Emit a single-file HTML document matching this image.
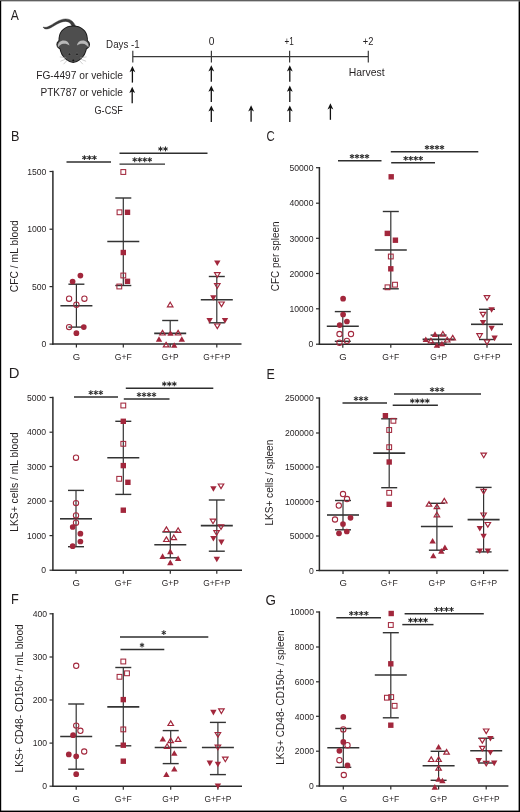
<!DOCTYPE html>
<html><head><meta charset="utf-8"><title>Figure</title>
<style>
html,body{margin:0;padding:0;background:#fff;}
body{width:520px;height:812px;position:relative;overflow:hidden;font-family:"Liberation Sans", sans-serif;}
</style></head><body>
<svg width="520" height="812" viewBox="0 0 520 812" style="position:absolute;left:0;top:0;will-change:transform">
<g font-family='"Liberation Sans", sans-serif'>
<text x="10.8" y="19.8" font-size="14.2" text-anchor="start" fill="#231f20" textLength="8.09" lengthAdjust="spacingAndGlyphs">A</text>
<g id="mouse">
<path d="M76.2 27.2 C73.8 21.8 70.8 18.9 65.6 18.9 C59.2 18.9 53.4 24.4 47.8 26.8 C46.2 27.5 44.4 27.5 43.1 27.0 C43.6 28.6 45.6 29.6 48.4 28.7 C54 26.6 59.4 21.4 65.6 21.4 C69.4 21.4 71.4 24.2 72.8 27.8 Z" fill="#3c3c3c" stroke="#262626" stroke-width="0.4"/>
<g stroke="#1a1a1a" stroke-width="1.9">
<ellipse cx="63.3" cy="44.4" rx="6.0" ry="4.6"/>
<ellipse cx="83.1" cy="44.4" rx="6.0" ry="4.6"/>
<path d="M73.2 26.5 C80.8 26.5 86.4 31 86.9 38.2 C87.2 42 86.8 45.5 86 48 C85.6 52.5 82.5 57 79.6 59.3 C77.6 60.9 75.3 62 73.2 62.1 C71.1 62 68.8 60.9 66.8 59.3 C63.9 57 60.8 52.5 60.4 48 C59.6 45.5 59.2 42 59.5 38.2 C60 31 65.6 26.5 73.2 26.5 Z"/>
</g>
<g fill="#4e4e4e">
<ellipse cx="63.3" cy="44.4" rx="6.0" ry="4.6"/>
<ellipse cx="83.1" cy="44.4" rx="6.0" ry="4.6"/>
<path d="M73.2 26.5 C80.8 26.5 86.4 31 86.9 38.2 C87.2 42 86.8 45.5 86 48 C85.6 52.5 82.5 57 79.6 59.3 C77.6 60.9 75.3 62 73.2 62.1 C71.1 62 68.8 60.9 66.8 59.3 C63.9 57 60.8 52.5 60.4 48 C59.6 45.5 59.2 42 59.5 38.2 C60 31 65.6 26.5 73.2 26.5 Z"/>
</g>
<path d="M57.9 47.4 C57.2 42.8 60.6 40.4 63.6 40.4 C66.7 40.4 69.1 42.3 69.5 45.6 C67.6 44.1 65.7 43.6 63.6 43.8 C61.2 44 59.4 45.4 57.9 47.4 Z" fill="#b9b9b9"/>
<path d="M88.5 47.4 C89.2 42.8 85.8 40.4 82.8 40.4 C79.7 40.4 77.3 42.3 76.9 45.6 C78.8 44.1 80.7 43.6 82.8 43.8 C85.2 44 87 45.4 88.5 47.4 Z" fill="#b9b9b9"/>
<circle cx="69.5" cy="54.3" r="1.3" fill="#1c1c1c" stroke="#707070" stroke-width="0.55"/>
<circle cx="77.0" cy="54.3" r="1.3" fill="#1c1c1c" stroke="#707070" stroke-width="0.55"/>
<circle cx="73.3" cy="60.4" r="0.95" fill="#111"/>
<g stroke="#a0a0a0" stroke-width="0.5" fill="none">
<path d="M66.2 57.7 L59.8 56.9"/><path d="M66.4 58.8 L60.3 61.3"/><path d="M67.4 59.9 L63.6 64.2"/>
<path d="M80.2 57.7 L86.6 56.9"/><path d="M80.0 58.8 L86.1 61.3"/><path d="M79.0 59.9 L82.8 64.2"/>
</g>
</g>
<text x="106.12" y="48" font-size="11.6" text-anchor="start" fill="#231f20" textLength="33.52" lengthAdjust="spacingAndGlyphs">Days -1</text>
<text x="208.69" y="44.8" font-size="10" text-anchor="start" fill="#231f20" textLength="5.68" lengthAdjust="spacingAndGlyphs">0</text>
<text x="284.39" y="44.8" font-size="10" text-anchor="start" fill="#231f20" textLength="9.32" lengthAdjust="spacingAndGlyphs">+1</text>
<text x="362.83" y="44.8" font-size="10" text-anchor="start" fill="#231f20" textLength="10.63" lengthAdjust="spacingAndGlyphs">+2</text>
<line x1="132.8" y1="56.6" x2="368.3" y2="56.6" stroke="#3a3a3a" stroke-width="1.3"/>
<line x1="132.8" y1="50.8" x2="132.8" y2="62.6" stroke="#3a3a3a" stroke-width="1.2"/>
<line x1="211.4" y1="50.8" x2="211.4" y2="62.6" stroke="#3a3a3a" stroke-width="1.2"/>
<line x1="289.6" y1="50.8" x2="289.6" y2="62.6" stroke="#3a3a3a" stroke-width="1.2"/>
<line x1="368.3" y1="50.8" x2="368.3" y2="62.6" stroke="#3a3a3a" stroke-width="1.2"/>
<text x="348.67" y="75.8" font-size="10.9" text-anchor="start" fill="#231f20" textLength="35.89" lengthAdjust="spacingAndGlyphs">Harvest</text>
<text x="36.18" y="78.8" font-size="11.6" text-anchor="start" fill="#231f20" textLength="86.76" lengthAdjust="spacingAndGlyphs">FG-4497 or vehicle</text>
<text x="40.49" y="96.3" font-size="11.6" text-anchor="start" fill="#231f20" textLength="82.42" lengthAdjust="spacingAndGlyphs">PTK787 or vehicle</text>
<text x="94.54" y="114.3" font-size="11.6" text-anchor="start" fill="#231f20" textLength="28.33" lengthAdjust="spacingAndGlyphs">G-CSF</text>
<line x1="132.4" y1="69" x2="132.4" y2="82.6" stroke="#111" stroke-width="1.3"/>
<path d="M132.4 66 L135.3 72.2 L132.4 70.6 L129.5 72.2 Z" fill="#111"/>
<line x1="132.2" y1="89.8" x2="132.2" y2="103.2" stroke="#111" stroke-width="1.3"/>
<path d="M132.2 86.8 L135.1 93 L132.2 91.4 L129.3 93 Z" fill="#111"/>
<line x1="211.3" y1="68.2" x2="211.3" y2="81.7" stroke="#111" stroke-width="1.3"/>
<path d="M211.3 65.2 L214.2 71.4 L211.3 69.8 L208.4 71.4 Z" fill="#111"/>
<line x1="211.3" y1="88.6" x2="211.3" y2="102.1" stroke="#111" stroke-width="1.3"/>
<path d="M211.3 85.6 L214.2 91.8 L211.3 90.2 L208.4 91.8 Z" fill="#111"/>
<line x1="211.3" y1="108.4" x2="211.3" y2="121.9" stroke="#111" stroke-width="1.3"/>
<path d="M211.3 105.4 L214.2 111.6 L211.3 110 L208.4 111.6 Z" fill="#111"/>
<line x1="289.8" y1="68.2" x2="289.8" y2="81.7" stroke="#111" stroke-width="1.3"/>
<path d="M289.8 65.2 L292.7 71.4 L289.8 69.8 L286.9 71.4 Z" fill="#111"/>
<line x1="289.8" y1="88.6" x2="289.8" y2="102.1" stroke="#111" stroke-width="1.3"/>
<path d="M289.8 85.6 L292.7 91.8 L289.8 90.2 L286.9 91.8 Z" fill="#111"/>
<line x1="289.8" y1="108.4" x2="289.8" y2="121.9" stroke="#111" stroke-width="1.3"/>
<path d="M289.8 105.4 L292.7 111.6 L289.8 110 L286.9 111.6 Z" fill="#111"/>
<line x1="251.1" y1="108.2" x2="251.1" y2="121.8" stroke="#111" stroke-width="1.3"/>
<path d="M251.1 105.2 L254 111.4 L251.1 109.8 L248.2 111.4 Z" fill="#111"/>
<line x1="330.4" y1="106.2" x2="330.4" y2="119.8" stroke="#111" stroke-width="1.3"/>
<path d="M330.4 103.2 L333.3 109.4 L330.4 107.8 L327.5 109.4 Z" fill="#111"/>
<text x="10.99" y="140.8" font-size="14.2" text-anchor="start" fill="#231f20" textLength="8.43" lengthAdjust="spacingAndGlyphs">B</text>
<line x1="52.9" y1="344.7" x2="52.9" y2="170.8" stroke="#2b2b2b" stroke-width="1.5"/>
<line x1="52.2" y1="344.1" x2="241.5" y2="344.1" stroke="#2b2b2b" stroke-width="1.5"/>
<line x1="49.5" y1="344.1" x2="52.9" y2="344.1" stroke="#2b2b2b" stroke-width="1.2"/>
<text x="41.52" y="347.35" font-size="9.3" text-anchor="start" fill="#231f20" textLength="4.79" lengthAdjust="spacingAndGlyphs">0</text>
<line x1="49.5" y1="286.6" x2="52.9" y2="286.6" stroke="#2b2b2b" stroke-width="1.2"/>
<text x="31.95" y="289.85" font-size="9.3" text-anchor="start" fill="#231f20" textLength="14.38" lengthAdjust="spacingAndGlyphs">500</text>
<line x1="49.5" y1="229.2" x2="52.9" y2="229.2" stroke="#2b2b2b" stroke-width="1.2"/>
<text x="27.21" y="232.45" font-size="9.3" text-anchor="start" fill="#231f20" textLength="19.17" lengthAdjust="spacingAndGlyphs">1000</text>
<line x1="49.5" y1="171.5" x2="52.9" y2="171.5" stroke="#2b2b2b" stroke-width="1.2"/>
<text x="27.21" y="174.75" font-size="9.3" text-anchor="start" fill="#231f20" textLength="19.17" lengthAdjust="spacingAndGlyphs">1500</text>
<line x1="76.4" y1="344.1" x2="76.4" y2="347.6" stroke="#2b2b2b" stroke-width="1.2"/>
<line x1="123.3" y1="344.1" x2="123.3" y2="347.6" stroke="#2b2b2b" stroke-width="1.2"/>
<line x1="170.2" y1="344.1" x2="170.2" y2="347.6" stroke="#2b2b2b" stroke-width="1.2"/>
<line x1="216.8" y1="344.1" x2="216.8" y2="347.6" stroke="#2b2b2b" stroke-width="1.2"/>
<text x="72.82" y="359.7" font-size="9.5" text-anchor="start" fill="#231f20" textLength="7.42" lengthAdjust="spacingAndGlyphs">G</text>
<text x="114.77" y="359.7" font-size="9.5" text-anchor="start" fill="#231f20" textLength="17" lengthAdjust="spacingAndGlyphs">G+F</text>
<text x="161.68" y="359.7" font-size="9.5" text-anchor="start" fill="#231f20" textLength="17.03" lengthAdjust="spacingAndGlyphs">G+P</text>
<text x="203.33" y="359.7" font-size="9.5" text-anchor="start" fill="#231f20" textLength="26.97" lengthAdjust="spacingAndGlyphs">G+F+P</text>
<text x="17.8" y="292.22" font-size="11" text-anchor="start" fill="#231f20" textLength="71.89" lengthAdjust="spacingAndGlyphs" transform="rotate(-90 17.8 292.22)">CFC / mL blood</text>
<line x1="66.5" y1="162" x2="111" y2="162" stroke="#2e2e2e" stroke-width="1.45"/>
<line x1="84.4" y1="155.15" x2="84.4" y2="160.05" stroke="#2a2a2a" stroke-width="1.05"/>
<line x1="82.28" y1="156.38" x2="86.52" y2="158.82" stroke="#2a2a2a" stroke-width="1.05"/>
<line x1="82.28" y1="158.82" x2="86.52" y2="156.38" stroke="#2a2a2a" stroke-width="1.05"/>
<line x1="89.4" y1="155.15" x2="89.4" y2="160.05" stroke="#2a2a2a" stroke-width="1.05"/>
<line x1="87.28" y1="156.38" x2="91.52" y2="158.82" stroke="#2a2a2a" stroke-width="1.05"/>
<line x1="87.28" y1="158.82" x2="91.52" y2="156.38" stroke="#2a2a2a" stroke-width="1.05"/>
<line x1="94.4" y1="155.15" x2="94.4" y2="160.05" stroke="#2a2a2a" stroke-width="1.05"/>
<line x1="92.28" y1="156.38" x2="96.52" y2="158.82" stroke="#2a2a2a" stroke-width="1.05"/>
<line x1="92.28" y1="158.82" x2="96.52" y2="156.38" stroke="#2a2a2a" stroke-width="1.05"/>
<line x1="119.5" y1="164.1" x2="165" y2="164.1" stroke="#2e2e2e" stroke-width="1.45"/>
<line x1="134.7" y1="157.25" x2="134.7" y2="162.15" stroke="#2a2a2a" stroke-width="1.05"/>
<line x1="132.58" y1="158.47" x2="136.82" y2="160.92" stroke="#2a2a2a" stroke-width="1.05"/>
<line x1="132.58" y1="160.92" x2="136.82" y2="158.47" stroke="#2a2a2a" stroke-width="1.05"/>
<line x1="139.7" y1="157.25" x2="139.7" y2="162.15" stroke="#2a2a2a" stroke-width="1.05"/>
<line x1="137.58" y1="158.47" x2="141.82" y2="160.92" stroke="#2a2a2a" stroke-width="1.05"/>
<line x1="137.58" y1="160.92" x2="141.82" y2="158.47" stroke="#2a2a2a" stroke-width="1.05"/>
<line x1="144.7" y1="157.25" x2="144.7" y2="162.15" stroke="#2a2a2a" stroke-width="1.05"/>
<line x1="142.58" y1="158.47" x2="146.82" y2="160.92" stroke="#2a2a2a" stroke-width="1.05"/>
<line x1="142.58" y1="160.92" x2="146.82" y2="158.47" stroke="#2a2a2a" stroke-width="1.05"/>
<line x1="149.7" y1="157.25" x2="149.7" y2="162.15" stroke="#2a2a2a" stroke-width="1.05"/>
<line x1="147.58" y1="158.47" x2="151.82" y2="160.92" stroke="#2a2a2a" stroke-width="1.05"/>
<line x1="147.58" y1="160.92" x2="151.82" y2="158.47" stroke="#2a2a2a" stroke-width="1.05"/>
<line x1="119.5" y1="153.3" x2="207.5" y2="153.3" stroke="#2e2e2e" stroke-width="1.45"/>
<line x1="160.5" y1="146.45" x2="160.5" y2="151.35" stroke="#2a2a2a" stroke-width="1.05"/>
<line x1="158.38" y1="147.68" x2="162.62" y2="150.12" stroke="#2a2a2a" stroke-width="1.05"/>
<line x1="158.38" y1="150.12" x2="162.62" y2="147.68" stroke="#2a2a2a" stroke-width="1.05"/>
<line x1="165.5" y1="146.45" x2="165.5" y2="151.35" stroke="#2a2a2a" stroke-width="1.05"/>
<line x1="163.38" y1="147.68" x2="167.62" y2="150.12" stroke="#2a2a2a" stroke-width="1.05"/>
<line x1="163.38" y1="150.12" x2="167.62" y2="147.68" stroke="#2a2a2a" stroke-width="1.05"/>
<line x1="76.4" y1="284.2" x2="76.4" y2="327.1" stroke="#333333" stroke-width="1.2"/>
<line x1="68.4" y1="284.2" x2="84.4" y2="284.2" stroke="#333333" stroke-width="1.4"/>
<line x1="68.4" y1="327.1" x2="84.4" y2="327.1" stroke="#333333" stroke-width="1.4"/>
<line x1="60.4" y1="305.7" x2="92.4" y2="305.7" stroke="#333333" stroke-width="1.6"/>
<line x1="123.3" y1="198" x2="123.3" y2="285.5" stroke="#333333" stroke-width="1.2"/>
<line x1="115.3" y1="198" x2="131.3" y2="198" stroke="#333333" stroke-width="1.4"/>
<line x1="115.3" y1="285.5" x2="131.3" y2="285.5" stroke="#333333" stroke-width="1.4"/>
<line x1="107.3" y1="241.5" x2="139.3" y2="241.5" stroke="#333333" stroke-width="1.6"/>
<line x1="170.2" y1="320.5" x2="170.2" y2="333.4" stroke="#333333" stroke-width="1.2"/>
<line x1="162.2" y1="320.5" x2="178.2" y2="320.5" stroke="#333333" stroke-width="1.4"/>
<line x1="154.2" y1="333.4" x2="186.2" y2="333.4" stroke="#333333" stroke-width="1.6"/>
<line x1="216.8" y1="276.5" x2="216.8" y2="322.8" stroke="#333333" stroke-width="1.2"/>
<line x1="208.8" y1="276.5" x2="224.8" y2="276.5" stroke="#333333" stroke-width="1.4"/>
<line x1="208.8" y1="322.8" x2="224.8" y2="322.8" stroke="#333333" stroke-width="1.4"/>
<line x1="200.8" y1="299.7" x2="232.8" y2="299.7" stroke="#333333" stroke-width="1.6"/>
<circle cx="80.4" cy="275.6" r="2.85" fill="#a2273c"/>
<circle cx="72.6" cy="281.5" r="2.85" fill="#a2273c"/>
<circle cx="76.4" cy="333.2" r="2.85" fill="#a2273c"/>
<circle cx="83.8" cy="327.1" r="2.85" fill="#a2273c"/>
<circle cx="69.1" cy="298.7" r="2.65" fill="none" stroke="#a2273c" stroke-width="1.05"/>
<circle cx="84.4" cy="298.7" r="2.65" fill="none" stroke="#a2273c" stroke-width="1.05"/>
<circle cx="76.4" cy="304.7" r="2.65" fill="none" stroke="#a2273c" stroke-width="1.05"/>
<circle cx="69.1" cy="327.1" r="2.65" fill="none" stroke="#a2273c" stroke-width="1.05"/>
<rect x="120.9" y="169.6" width="4.8" height="4.8" fill="none" stroke="#a2273c" stroke-width="1.05"/>
<rect x="117.1" y="209.9" width="4.8" height="4.8" fill="none" stroke="#a2273c" stroke-width="1.05"/>
<rect x="120.9" y="273.1" width="4.8" height="4.8" fill="none" stroke="#a2273c" stroke-width="1.05"/>
<rect x="116.9" y="284.1" width="4.8" height="4.8" fill="none" stroke="#a2273c" stroke-width="1.05"/>
<rect x="124.8" y="209.6" width="5.4" height="5.4" fill="#a2273c"/>
<rect x="120.6" y="249.8" width="5.4" height="5.4" fill="#a2273c"/>
<rect x="124.8" y="278.6" width="5.4" height="5.4" fill="#a2273c"/>
<polygon points="170.2,302.2 172.95,306.8 167.45,306.8" fill="none" stroke="#a2273c" stroke-width="1.2" stroke-linejoin="miter"/>
<polygon points="162.5,330.4 165.25,335 159.75,335" fill="none" stroke="#a2273c" stroke-width="1.2" stroke-linejoin="miter"/>
<polygon points="178.1,330.4 180.85,335 175.35,335" fill="none" stroke="#a2273c" stroke-width="1.2" stroke-linejoin="miter"/>
<polygon points="166.1,342.3 168.85,346.9 163.35,346.9" fill="none" stroke="#a2273c" stroke-width="1.2" stroke-linejoin="miter"/>
<polygon points="170.5,330.2 173.7,335.8 167.3,335.8" fill="#a2273c"/>
<polygon points="159,336.2 162.2,341.8 155.8,341.8" fill="#a2273c"/>
<polygon points="181.8,336.2 185,341.8 178.6,341.8" fill="#a2273c"/>
<polygon points="174.2,342.2 177.4,347.8 171,347.8" fill="#a2273c"/>
<polygon points="217.3,277.3 220.05,272.7 214.55,272.7" fill="none" stroke="#a2273c" stroke-width="1.2" stroke-linejoin="miter"/>
<polygon points="217.3,288.3 220.05,283.7 214.55,283.7" fill="none" stroke="#a2273c" stroke-width="1.2" stroke-linejoin="miter"/>
<polygon points="221.5,306.6 224.25,302 218.75,302" fill="none" stroke="#a2273c" stroke-width="1.2" stroke-linejoin="miter"/>
<polygon points="217.3,328.6 220.05,324 214.55,324" fill="none" stroke="#a2273c" stroke-width="1.2" stroke-linejoin="miter"/>
<polygon points="217.3,266.1 220.5,260.5 214.1,260.5" fill="#a2273c"/>
<polygon points="213.3,300.8 216.5,295.2 210.1,295.2" fill="#a2273c"/>
<polygon points="209.6,323.6 212.8,318 206.4,318" fill="#a2273c"/>
<polygon points="225,323.6 228.2,318 221.8,318" fill="#a2273c"/>
<text x="266.43" y="140.8" font-size="14.2" text-anchor="start" fill="#231f20" textLength="8.25" lengthAdjust="spacingAndGlyphs">C</text>
<line x1="319.4" y1="344.8" x2="319.4" y2="167" stroke="#2b2b2b" stroke-width="1.5"/>
<line x1="318.7" y1="344.2" x2="512" y2="344.2" stroke="#2b2b2b" stroke-width="1.5"/>
<line x1="316" y1="344.2" x2="319.4" y2="344.2" stroke="#2b2b2b" stroke-width="1.2"/>
<text x="308.62" y="347.45" font-size="9.3" text-anchor="start" fill="#231f20" textLength="4.79" lengthAdjust="spacingAndGlyphs">0</text>
<line x1="316" y1="308.8" x2="319.4" y2="308.8" stroke="#2b2b2b" stroke-width="1.2"/>
<text x="289.48" y="312.05" font-size="9.3" text-anchor="start" fill="#231f20" textLength="23.97" lengthAdjust="spacingAndGlyphs">10000</text>
<line x1="316" y1="273.5" x2="319.4" y2="273.5" stroke="#2b2b2b" stroke-width="1.2"/>
<text x="289.48" y="276.75" font-size="9.3" text-anchor="start" fill="#231f20" textLength="23.97" lengthAdjust="spacingAndGlyphs">20000</text>
<line x1="316" y1="238.3" x2="319.4" y2="238.3" stroke="#2b2b2b" stroke-width="1.2"/>
<text x="289.48" y="241.55" font-size="9.3" text-anchor="start" fill="#231f20" textLength="23.97" lengthAdjust="spacingAndGlyphs">30000</text>
<line x1="316" y1="203.2" x2="319.4" y2="203.2" stroke="#2b2b2b" stroke-width="1.2"/>
<text x="289.48" y="206.45" font-size="9.3" text-anchor="start" fill="#231f20" textLength="23.97" lengthAdjust="spacingAndGlyphs">40000</text>
<line x1="316" y1="167.7" x2="319.4" y2="167.7" stroke="#2b2b2b" stroke-width="1.2"/>
<text x="289.48" y="170.95" font-size="9.3" text-anchor="start" fill="#231f20" textLength="23.97" lengthAdjust="spacingAndGlyphs">50000</text>
<line x1="342.8" y1="344.2" x2="342.8" y2="347.7" stroke="#2b2b2b" stroke-width="1.2"/>
<line x1="390.8" y1="344.2" x2="390.8" y2="347.7" stroke="#2b2b2b" stroke-width="1.2"/>
<line x1="438.7" y1="344.2" x2="438.7" y2="347.7" stroke="#2b2b2b" stroke-width="1.2"/>
<line x1="487" y1="344.2" x2="487" y2="347.7" stroke="#2b2b2b" stroke-width="1.2"/>
<text x="339.22" y="359.7" font-size="9.5" text-anchor="start" fill="#231f20" textLength="7.42" lengthAdjust="spacingAndGlyphs">G</text>
<text x="382.27" y="359.7" font-size="9.5" text-anchor="start" fill="#231f20" textLength="17" lengthAdjust="spacingAndGlyphs">G+F</text>
<text x="430.18" y="359.7" font-size="9.5" text-anchor="start" fill="#231f20" textLength="17.03" lengthAdjust="spacingAndGlyphs">G+P</text>
<text x="473.53" y="359.7" font-size="9.5" text-anchor="start" fill="#231f20" textLength="26.97" lengthAdjust="spacingAndGlyphs">G+F+P</text>
<text x="278.8" y="291.2" font-size="11" text-anchor="start" fill="#231f20" textLength="69.72" lengthAdjust="spacingAndGlyphs" transform="rotate(-90 278.8 291.2)">CFC per spleen</text>
<line x1="338" y1="160.8" x2="381.5" y2="160.8" stroke="#2e2e2e" stroke-width="1.45"/>
<line x1="352" y1="153.95" x2="352" y2="158.85" stroke="#2a2a2a" stroke-width="1.05"/>
<line x1="349.88" y1="155.18" x2="354.12" y2="157.62" stroke="#2a2a2a" stroke-width="1.05"/>
<line x1="349.88" y1="157.62" x2="354.12" y2="155.18" stroke="#2a2a2a" stroke-width="1.05"/>
<line x1="357" y1="153.95" x2="357" y2="158.85" stroke="#2a2a2a" stroke-width="1.05"/>
<line x1="354.88" y1="155.18" x2="359.12" y2="157.62" stroke="#2a2a2a" stroke-width="1.05"/>
<line x1="354.88" y1="157.62" x2="359.12" y2="155.18" stroke="#2a2a2a" stroke-width="1.05"/>
<line x1="362" y1="153.95" x2="362" y2="158.85" stroke="#2a2a2a" stroke-width="1.05"/>
<line x1="359.88" y1="155.18" x2="364.12" y2="157.62" stroke="#2a2a2a" stroke-width="1.05"/>
<line x1="359.88" y1="157.62" x2="364.12" y2="155.18" stroke="#2a2a2a" stroke-width="1.05"/>
<line x1="367" y1="153.95" x2="367" y2="158.85" stroke="#2a2a2a" stroke-width="1.05"/>
<line x1="364.88" y1="155.18" x2="369.12" y2="157.62" stroke="#2a2a2a" stroke-width="1.05"/>
<line x1="364.88" y1="157.62" x2="369.12" y2="155.18" stroke="#2a2a2a" stroke-width="1.05"/>
<line x1="391.2" y1="162.8" x2="435" y2="162.8" stroke="#2e2e2e" stroke-width="1.45"/>
<line x1="405.7" y1="155.95" x2="405.7" y2="160.85" stroke="#2a2a2a" stroke-width="1.05"/>
<line x1="403.58" y1="157.18" x2="407.82" y2="159.62" stroke="#2a2a2a" stroke-width="1.05"/>
<line x1="403.58" y1="159.62" x2="407.82" y2="157.18" stroke="#2a2a2a" stroke-width="1.05"/>
<line x1="410.7" y1="155.95" x2="410.7" y2="160.85" stroke="#2a2a2a" stroke-width="1.05"/>
<line x1="408.58" y1="157.18" x2="412.82" y2="159.62" stroke="#2a2a2a" stroke-width="1.05"/>
<line x1="408.58" y1="159.62" x2="412.82" y2="157.18" stroke="#2a2a2a" stroke-width="1.05"/>
<line x1="415.7" y1="155.95" x2="415.7" y2="160.85" stroke="#2a2a2a" stroke-width="1.05"/>
<line x1="413.58" y1="157.18" x2="417.82" y2="159.62" stroke="#2a2a2a" stroke-width="1.05"/>
<line x1="413.58" y1="159.62" x2="417.82" y2="157.18" stroke="#2a2a2a" stroke-width="1.05"/>
<line x1="420.7" y1="155.95" x2="420.7" y2="160.85" stroke="#2a2a2a" stroke-width="1.05"/>
<line x1="418.58" y1="157.18" x2="422.82" y2="159.62" stroke="#2a2a2a" stroke-width="1.05"/>
<line x1="418.58" y1="159.62" x2="422.82" y2="157.18" stroke="#2a2a2a" stroke-width="1.05"/>
<line x1="390.8" y1="151.8" x2="478.3" y2="151.8" stroke="#2e2e2e" stroke-width="1.45"/>
<line x1="427" y1="144.95" x2="427" y2="149.85" stroke="#2a2a2a" stroke-width="1.05"/>
<line x1="424.88" y1="146.18" x2="429.12" y2="148.62" stroke="#2a2a2a" stroke-width="1.05"/>
<line x1="424.88" y1="148.62" x2="429.12" y2="146.18" stroke="#2a2a2a" stroke-width="1.05"/>
<line x1="432" y1="144.95" x2="432" y2="149.85" stroke="#2a2a2a" stroke-width="1.05"/>
<line x1="429.88" y1="146.18" x2="434.12" y2="148.62" stroke="#2a2a2a" stroke-width="1.05"/>
<line x1="429.88" y1="148.62" x2="434.12" y2="146.18" stroke="#2a2a2a" stroke-width="1.05"/>
<line x1="437" y1="144.95" x2="437" y2="149.85" stroke="#2a2a2a" stroke-width="1.05"/>
<line x1="434.88" y1="146.18" x2="439.12" y2="148.62" stroke="#2a2a2a" stroke-width="1.05"/>
<line x1="434.88" y1="148.62" x2="439.12" y2="146.18" stroke="#2a2a2a" stroke-width="1.05"/>
<line x1="442" y1="144.95" x2="442" y2="149.85" stroke="#2a2a2a" stroke-width="1.05"/>
<line x1="439.88" y1="146.18" x2="444.12" y2="148.62" stroke="#2a2a2a" stroke-width="1.05"/>
<line x1="439.88" y1="148.62" x2="444.12" y2="146.18" stroke="#2a2a2a" stroke-width="1.05"/>
<line x1="342.8" y1="311.6" x2="342.8" y2="341.3" stroke="#333333" stroke-width="1.2"/>
<line x1="334.8" y1="311.6" x2="350.8" y2="311.6" stroke="#333333" stroke-width="1.4"/>
<line x1="334.8" y1="341.3" x2="350.8" y2="341.3" stroke="#333333" stroke-width="1.4"/>
<line x1="326.8" y1="326.3" x2="358.8" y2="326.3" stroke="#333333" stroke-width="1.6"/>
<line x1="390.8" y1="211.5" x2="390.8" y2="288.8" stroke="#333333" stroke-width="1.2"/>
<line x1="382.8" y1="211.5" x2="398.8" y2="211.5" stroke="#333333" stroke-width="1.4"/>
<line x1="382.8" y1="288.8" x2="398.8" y2="288.8" stroke="#333333" stroke-width="1.4"/>
<line x1="374.8" y1="250" x2="406.8" y2="250" stroke="#333333" stroke-width="1.6"/>
<line x1="438.6" y1="335.1" x2="438.6" y2="343" stroke="#333333" stroke-width="1.2"/>
<line x1="430.6" y1="335.1" x2="446.6" y2="335.1" stroke="#333333" stroke-width="1.4"/>
<line x1="430.6" y1="343" x2="446.6" y2="343" stroke="#333333" stroke-width="1.4"/>
<line x1="422.6" y1="339.4" x2="454.6" y2="339.4" stroke="#333333" stroke-width="1.6"/>
<line x1="487" y1="309.3" x2="487" y2="339.5" stroke="#333333" stroke-width="1.2"/>
<line x1="479" y1="309.3" x2="495" y2="309.3" stroke="#333333" stroke-width="1.4"/>
<line x1="479" y1="339.5" x2="495" y2="339.5" stroke="#333333" stroke-width="1.4"/>
<line x1="471" y1="324.3" x2="503" y2="324.3" stroke="#333333" stroke-width="1.6"/>
<circle cx="343.1" cy="298.7" r="2.85" fill="#a2273c"/>
<circle cx="343.1" cy="314.5" r="2.85" fill="#a2273c"/>
<circle cx="346.9" cy="321.5" r="2.85" fill="#a2273c"/>
<circle cx="339.7" cy="325.1" r="2.85" fill="#a2273c"/>
<circle cx="339.5" cy="334" r="2.65" fill="none" stroke="#a2273c" stroke-width="1.05"/>
<circle cx="351" cy="334" r="2.65" fill="none" stroke="#a2273c" stroke-width="1.05"/>
<circle cx="346.9" cy="340.8" r="2.65" fill="none" stroke="#a2273c" stroke-width="1.05"/>
<circle cx="339.5" cy="342.7" r="2.65" fill="none" stroke="#a2273c" stroke-width="1.05"/>
<rect x="388.5" y="174.1" width="5.4" height="5.4" fill="#a2273c"/>
<rect x="384.6" y="230.7" width="5.4" height="5.4" fill="#a2273c"/>
<rect x="392.7" y="237.5" width="5.4" height="5.4" fill="#a2273c"/>
<rect x="388.1" y="266.1" width="5.4" height="5.4" fill="#a2273c"/>
<rect x="388.4" y="254.1" width="4.8" height="4.8" fill="none" stroke="#a2273c" stroke-width="1.05"/>
<rect x="392.6" y="282.3" width="4.8" height="4.8" fill="none" stroke="#a2273c" stroke-width="1.05"/>
<rect x="385.1" y="284.9" width="4.8" height="4.8" fill="none" stroke="#a2273c" stroke-width="1.05"/>
<polygon points="435,331.3 438.2,336.9 431.8,336.9" fill="#a2273c"/>
<polygon points="425.8,336.4 429,342 422.6,342" fill="#a2273c"/>
<polygon points="441.9,340.7 445.1,346.3 438.7,346.3" fill="#a2273c"/>
<polygon points="436.9,342.2 440.1,347.8 433.7,347.8" fill="#a2273c"/>
<polygon points="442.9,331.5 445.65,336.1 440.15,336.1" fill="none" stroke="#a2273c" stroke-width="1.2" stroke-linejoin="miter"/>
<polygon points="430.9,338.3 433.65,342.9 428.15,342.9" fill="none" stroke="#a2273c" stroke-width="1.2" stroke-linejoin="miter"/>
<polygon points="452.7,335.4 455.45,340 449.95,340" fill="none" stroke="#a2273c" stroke-width="1.2" stroke-linejoin="miter"/>
<polygon points="447.2,337.4 449.95,342 444.45,342" fill="none" stroke="#a2273c" stroke-width="1.2" stroke-linejoin="miter"/>
<polygon points="487,300.3 489.75,295.7 484.25,295.7" fill="none" stroke="#a2273c" stroke-width="1.2" stroke-linejoin="miter"/>
<polygon points="483,316.9 485.75,312.3 480.25,312.3" fill="none" stroke="#a2273c" stroke-width="1.2" stroke-linejoin="miter"/>
<polygon points="479.6,338.3 482.35,333.7 476.85,333.7" fill="none" stroke="#a2273c" stroke-width="1.2" stroke-linejoin="miter"/>
<polygon points="487,344.6 489.75,340 484.25,340" fill="none" stroke="#a2273c" stroke-width="1.2" stroke-linejoin="miter"/>
<polygon points="491.6,312.8 494.8,307.2 488.4,307.2" fill="#a2273c"/>
<polygon points="483,325.5 486.2,319.9 479.8,319.9" fill="#a2273c"/>
<polygon points="491.6,331.3 494.8,325.7 488.4,325.7" fill="#a2273c"/>
<polygon points="494.6,341.2 497.8,335.6 491.4,335.6" fill="#a2273c"/>
<text x="8.81" y="378" font-size="14.2" text-anchor="start" fill="#231f20" textLength="10.71" lengthAdjust="spacingAndGlyphs">D</text>
<line x1="52.9" y1="570.8" x2="52.9" y2="396.8" stroke="#2b2b2b" stroke-width="1.5"/>
<line x1="52.2" y1="570.2" x2="242" y2="570.2" stroke="#2b2b2b" stroke-width="1.5"/>
<line x1="49.5" y1="570.2" x2="52.9" y2="570.2" stroke="#2b2b2b" stroke-width="1.2"/>
<text x="41.32" y="573.45" font-size="9.3" text-anchor="start" fill="#231f20" textLength="4.79" lengthAdjust="spacingAndGlyphs">0</text>
<line x1="49.5" y1="535.6" x2="52.9" y2="535.6" stroke="#2b2b2b" stroke-width="1.2"/>
<text x="27.01" y="538.85" font-size="9.3" text-anchor="start" fill="#231f20" textLength="19.17" lengthAdjust="spacingAndGlyphs">1000</text>
<line x1="49.5" y1="501.2" x2="52.9" y2="501.2" stroke="#2b2b2b" stroke-width="1.2"/>
<text x="27.01" y="504.45" font-size="9.3" text-anchor="start" fill="#231f20" textLength="19.17" lengthAdjust="spacingAndGlyphs">2000</text>
<line x1="49.5" y1="466.5" x2="52.9" y2="466.5" stroke="#2b2b2b" stroke-width="1.2"/>
<text x="27.01" y="469.75" font-size="9.3" text-anchor="start" fill="#231f20" textLength="19.17" lengthAdjust="spacingAndGlyphs">3000</text>
<line x1="49.5" y1="432.2" x2="52.9" y2="432.2" stroke="#2b2b2b" stroke-width="1.2"/>
<text x="27.01" y="435.45" font-size="9.3" text-anchor="start" fill="#231f20" textLength="19.17" lengthAdjust="spacingAndGlyphs">4000</text>
<line x1="49.5" y1="397.5" x2="52.9" y2="397.5" stroke="#2b2b2b" stroke-width="1.2"/>
<text x="27.01" y="400.75" font-size="9.3" text-anchor="start" fill="#231f20" textLength="19.17" lengthAdjust="spacingAndGlyphs">5000</text>
<line x1="76" y1="570.2" x2="76" y2="573.7" stroke="#2b2b2b" stroke-width="1.2"/>
<line x1="123.3" y1="570.2" x2="123.3" y2="573.7" stroke="#2b2b2b" stroke-width="1.2"/>
<line x1="170.3" y1="570.2" x2="170.3" y2="573.7" stroke="#2b2b2b" stroke-width="1.2"/>
<line x1="216.8" y1="570.2" x2="216.8" y2="573.7" stroke="#2b2b2b" stroke-width="1.2"/>
<text x="72.42" y="585.5" font-size="9.5" text-anchor="start" fill="#231f20" textLength="7.42" lengthAdjust="spacingAndGlyphs">G</text>
<text x="114.77" y="585.5" font-size="9.5" text-anchor="start" fill="#231f20" textLength="17" lengthAdjust="spacingAndGlyphs">G+F</text>
<text x="161.78" y="585.5" font-size="9.5" text-anchor="start" fill="#231f20" textLength="17.03" lengthAdjust="spacingAndGlyphs">G+P</text>
<text x="203.33" y="585.5" font-size="9.5" text-anchor="start" fill="#231f20" textLength="26.97" lengthAdjust="spacingAndGlyphs">G+F+P</text>
<text x="17.8" y="531.72" font-size="11" text-anchor="start" fill="#231f20" textLength="99.47" lengthAdjust="spacingAndGlyphs" transform="rotate(-90 17.8 531.72)">LKS+ cells / mL blood</text>
<line x1="74" y1="397" x2="118" y2="397" stroke="#2e2e2e" stroke-width="1.45"/>
<line x1="90.8" y1="390.15" x2="90.8" y2="395.05" stroke="#2a2a2a" stroke-width="1.05"/>
<line x1="88.68" y1="391.38" x2="92.92" y2="393.83" stroke="#2a2a2a" stroke-width="1.05"/>
<line x1="88.68" y1="393.83" x2="92.92" y2="391.38" stroke="#2a2a2a" stroke-width="1.05"/>
<line x1="95.8" y1="390.15" x2="95.8" y2="395.05" stroke="#2a2a2a" stroke-width="1.05"/>
<line x1="93.68" y1="391.38" x2="97.92" y2="393.83" stroke="#2a2a2a" stroke-width="1.05"/>
<line x1="93.68" y1="393.83" x2="97.92" y2="391.38" stroke="#2a2a2a" stroke-width="1.05"/>
<line x1="100.8" y1="390.15" x2="100.8" y2="395.05" stroke="#2a2a2a" stroke-width="1.05"/>
<line x1="98.68" y1="391.38" x2="102.92" y2="393.83" stroke="#2a2a2a" stroke-width="1.05"/>
<line x1="98.68" y1="393.83" x2="102.92" y2="391.38" stroke="#2a2a2a" stroke-width="1.05"/>
<line x1="125.8" y1="388.3" x2="213.3" y2="388.3" stroke="#2e2e2e" stroke-width="1.45"/>
<line x1="164.3" y1="381.45" x2="164.3" y2="386.35" stroke="#2a2a2a" stroke-width="1.05"/>
<line x1="162.18" y1="382.68" x2="166.42" y2="385.13" stroke="#2a2a2a" stroke-width="1.05"/>
<line x1="162.18" y1="385.13" x2="166.42" y2="382.68" stroke="#2a2a2a" stroke-width="1.05"/>
<line x1="169.3" y1="381.45" x2="169.3" y2="386.35" stroke="#2a2a2a" stroke-width="1.05"/>
<line x1="167.18" y1="382.68" x2="171.42" y2="385.13" stroke="#2a2a2a" stroke-width="1.05"/>
<line x1="167.18" y1="385.13" x2="171.42" y2="382.68" stroke="#2a2a2a" stroke-width="1.05"/>
<line x1="174.3" y1="381.45" x2="174.3" y2="386.35" stroke="#2a2a2a" stroke-width="1.05"/>
<line x1="172.18" y1="382.68" x2="176.42" y2="385.13" stroke="#2a2a2a" stroke-width="1.05"/>
<line x1="172.18" y1="385.13" x2="176.42" y2="382.68" stroke="#2a2a2a" stroke-width="1.05"/>
<line x1="123.8" y1="399" x2="169.5" y2="399" stroke="#2e2e2e" stroke-width="1.45"/>
<line x1="139" y1="392.15" x2="139" y2="397.05" stroke="#2a2a2a" stroke-width="1.05"/>
<line x1="136.88" y1="393.38" x2="141.12" y2="395.83" stroke="#2a2a2a" stroke-width="1.05"/>
<line x1="136.88" y1="395.83" x2="141.12" y2="393.38" stroke="#2a2a2a" stroke-width="1.05"/>
<line x1="144" y1="392.15" x2="144" y2="397.05" stroke="#2a2a2a" stroke-width="1.05"/>
<line x1="141.88" y1="393.38" x2="146.12" y2="395.83" stroke="#2a2a2a" stroke-width="1.05"/>
<line x1="141.88" y1="395.83" x2="146.12" y2="393.38" stroke="#2a2a2a" stroke-width="1.05"/>
<line x1="149" y1="392.15" x2="149" y2="397.05" stroke="#2a2a2a" stroke-width="1.05"/>
<line x1="146.88" y1="393.38" x2="151.12" y2="395.83" stroke="#2a2a2a" stroke-width="1.05"/>
<line x1="146.88" y1="395.83" x2="151.12" y2="393.38" stroke="#2a2a2a" stroke-width="1.05"/>
<line x1="154" y1="392.15" x2="154" y2="397.05" stroke="#2a2a2a" stroke-width="1.05"/>
<line x1="151.88" y1="393.38" x2="156.12" y2="395.83" stroke="#2a2a2a" stroke-width="1.05"/>
<line x1="151.88" y1="395.83" x2="156.12" y2="393.38" stroke="#2a2a2a" stroke-width="1.05"/>
<line x1="76" y1="490.4" x2="76" y2="546.7" stroke="#333333" stroke-width="1.2"/>
<line x1="68" y1="490.4" x2="84" y2="490.4" stroke="#333333" stroke-width="1.4"/>
<line x1="68" y1="546.7" x2="84" y2="546.7" stroke="#333333" stroke-width="1.4"/>
<line x1="60" y1="518.8" x2="92" y2="518.8" stroke="#333333" stroke-width="1.6"/>
<line x1="123.3" y1="421.3" x2="123.3" y2="494.4" stroke="#333333" stroke-width="1.2"/>
<line x1="115.3" y1="421.3" x2="131.3" y2="421.3" stroke="#333333" stroke-width="1.4"/>
<line x1="115.3" y1="494.4" x2="131.3" y2="494.4" stroke="#333333" stroke-width="1.4"/>
<line x1="107.3" y1="457.7" x2="139.3" y2="457.7" stroke="#333333" stroke-width="1.6"/>
<line x1="170.3" y1="532" x2="170.3" y2="557.8" stroke="#333333" stroke-width="1.2"/>
<line x1="162.3" y1="532" x2="178.3" y2="532" stroke="#333333" stroke-width="1.4"/>
<line x1="162.3" y1="557.8" x2="178.3" y2="557.8" stroke="#333333" stroke-width="1.4"/>
<line x1="154.3" y1="544.7" x2="186.3" y2="544.7" stroke="#333333" stroke-width="1.6"/>
<line x1="216.8" y1="500" x2="216.8" y2="551.2" stroke="#333333" stroke-width="1.2"/>
<line x1="208.8" y1="500" x2="224.8" y2="500" stroke="#333333" stroke-width="1.4"/>
<line x1="208.8" y1="551.2" x2="224.8" y2="551.2" stroke="#333333" stroke-width="1.4"/>
<line x1="200.8" y1="525.6" x2="232.8" y2="525.6" stroke="#333333" stroke-width="1.6"/>
<circle cx="76" cy="457.7" r="2.65" fill="none" stroke="#a2273c" stroke-width="1.05"/>
<circle cx="76" cy="503.1" r="2.65" fill="none" stroke="#a2273c" stroke-width="1.05"/>
<circle cx="76" cy="515.4" r="2.65" fill="none" stroke="#a2273c" stroke-width="1.05"/>
<circle cx="76" cy="522.7" r="2.65" fill="none" stroke="#a2273c" stroke-width="1.05"/>
<circle cx="72.7" cy="527" r="2.85" fill="#a2273c"/>
<circle cx="80.4" cy="533.7" r="2.85" fill="#a2273c"/>
<circle cx="80.4" cy="541.5" r="2.85" fill="#a2273c"/>
<circle cx="72.7" cy="546.2" r="2.85" fill="#a2273c"/>
<rect x="120.9" y="403.1" width="4.8" height="4.8" fill="none" stroke="#a2273c" stroke-width="1.05"/>
<rect x="120.9" y="441.4" width="4.8" height="4.8" fill="none" stroke="#a2273c" stroke-width="1.05"/>
<rect x="116.8" y="476.4" width="4.8" height="4.8" fill="none" stroke="#a2273c" stroke-width="1.05"/>
<rect x="120.6" y="418.6" width="5.4" height="5.4" fill="#a2273c"/>
<rect x="120.6" y="462.9" width="5.4" height="5.4" fill="#a2273c"/>
<rect x="125.2" y="479.6" width="5.4" height="5.4" fill="#a2273c"/>
<rect x="120.6" y="507.5" width="5.4" height="5.4" fill="#a2273c"/>
<polygon points="166.4,526.9 169.15,531.5 163.65,531.5" fill="none" stroke="#a2273c" stroke-width="1.2" stroke-linejoin="miter"/>
<polygon points="178.1,527.8 180.85,532.4 175.35,532.4" fill="none" stroke="#a2273c" stroke-width="1.2" stroke-linejoin="miter"/>
<polygon points="166.4,536.9 169.15,541.5 163.65,541.5" fill="none" stroke="#a2273c" stroke-width="1.2" stroke-linejoin="miter"/>
<polygon points="173.8,535 176.55,539.6 171.05,539.6" fill="none" stroke="#a2273c" stroke-width="1.2" stroke-linejoin="miter"/>
<polygon points="170.3,548.6 173.5,554.2 167.1,554.2" fill="#a2273c"/>
<polygon points="162.6,553.3 165.8,558.9 159.4,558.9" fill="#a2273c"/>
<polygon points="178.1,555.4 181.3,561 174.9,561" fill="#a2273c"/>
<polygon points="170.3,559.6 173.5,565.2 167.1,565.2" fill="#a2273c"/>
<polygon points="221,488.6 223.75,484 218.25,484" fill="none" stroke="#a2273c" stroke-width="1.2" stroke-linejoin="miter"/>
<polygon points="213,523.7 215.75,519.1 210.25,519.1" fill="none" stroke="#a2273c" stroke-width="1.2" stroke-linejoin="miter"/>
<polygon points="221,529.4 223.75,524.8 218.25,524.8" fill="none" stroke="#a2273c" stroke-width="1.2" stroke-linejoin="miter"/>
<polygon points="216.6,535.3 219.35,530.7 213.85,530.7" fill="none" stroke="#a2273c" stroke-width="1.2" stroke-linejoin="miter"/>
<polygon points="213.4,491.8 216.6,486.2 210.2,486.2" fill="#a2273c"/>
<polygon points="213.4,541.6 216.6,536 210.2,536" fill="#a2273c"/>
<polygon points="221.4,545.2 224.6,539.6 218.2,539.6" fill="#a2273c"/>
<polygon points="216.8,562.3 220,556.7 213.6,556.7" fill="#a2273c"/>
<text x="266.5" y="378.75" font-size="14.2" text-anchor="start" fill="#231f20" textLength="8.34" lengthAdjust="spacingAndGlyphs">E</text>
<line x1="319.4" y1="571.1" x2="319.4" y2="397.3" stroke="#2b2b2b" stroke-width="1.5"/>
<line x1="318.7" y1="570.5" x2="508.4" y2="570.5" stroke="#2b2b2b" stroke-width="1.5"/>
<line x1="316" y1="570.5" x2="319.4" y2="570.5" stroke="#2b2b2b" stroke-width="1.2"/>
<text x="308.92" y="573.75" font-size="9.3" text-anchor="start" fill="#231f20" textLength="4.79" lengthAdjust="spacingAndGlyphs">0</text>
<line x1="316" y1="536" x2="319.4" y2="536" stroke="#2b2b2b" stroke-width="1.2"/>
<text x="289.78" y="539.25" font-size="9.3" text-anchor="start" fill="#231f20" textLength="23.97" lengthAdjust="spacingAndGlyphs">50000</text>
<line x1="316" y1="501.5" x2="319.4" y2="501.5" stroke="#2b2b2b" stroke-width="1.2"/>
<text x="284.96" y="504.75" font-size="9.3" text-anchor="start" fill="#231f20" textLength="28.76" lengthAdjust="spacingAndGlyphs">100000</text>
<line x1="316" y1="467" x2="319.4" y2="467" stroke="#2b2b2b" stroke-width="1.2"/>
<text x="284.96" y="470.25" font-size="9.3" text-anchor="start" fill="#231f20" textLength="28.76" lengthAdjust="spacingAndGlyphs">150000</text>
<line x1="316" y1="433" x2="319.4" y2="433" stroke="#2b2b2b" stroke-width="1.2"/>
<text x="284.96" y="436.25" font-size="9.3" text-anchor="start" fill="#231f20" textLength="28.76" lengthAdjust="spacingAndGlyphs">200000</text>
<line x1="316" y1="398" x2="319.4" y2="398" stroke="#2b2b2b" stroke-width="1.2"/>
<text x="284.96" y="401.25" font-size="9.3" text-anchor="start" fill="#231f20" textLength="28.76" lengthAdjust="spacingAndGlyphs">250000</text>
<line x1="343" y1="570.5" x2="343" y2="574" stroke="#2b2b2b" stroke-width="1.2"/>
<line x1="389.2" y1="570.5" x2="389.2" y2="574" stroke="#2b2b2b" stroke-width="1.2"/>
<line x1="436.9" y1="570.5" x2="436.9" y2="574" stroke="#2b2b2b" stroke-width="1.2"/>
<line x1="483.6" y1="570.5" x2="483.6" y2="574" stroke="#2b2b2b" stroke-width="1.2"/>
<text x="339.42" y="585.5" font-size="9.5" text-anchor="start" fill="#231f20" textLength="7.42" lengthAdjust="spacingAndGlyphs">G</text>
<text x="380.67" y="585.5" font-size="9.5" text-anchor="start" fill="#231f20" textLength="17" lengthAdjust="spacingAndGlyphs">G+F</text>
<text x="428.38" y="585.5" font-size="9.5" text-anchor="start" fill="#231f20" textLength="17.03" lengthAdjust="spacingAndGlyphs">G+P</text>
<text x="470.13" y="585.5" font-size="9.5" text-anchor="start" fill="#231f20" textLength="26.97" lengthAdjust="spacingAndGlyphs">G+F+P</text>
<text x="273.3" y="525.61" font-size="11" text-anchor="start" fill="#231f20" textLength="85.94" lengthAdjust="spacingAndGlyphs" transform="rotate(-90 273.3 525.61)">LKS+ cells / spleen</text>
<line x1="342.5" y1="403" x2="387" y2="403" stroke="#2e2e2e" stroke-width="1.45"/>
<line x1="356" y1="396.15" x2="356" y2="401.05" stroke="#2a2a2a" stroke-width="1.05"/>
<line x1="353.88" y1="397.38" x2="358.12" y2="399.83" stroke="#2a2a2a" stroke-width="1.05"/>
<line x1="353.88" y1="399.83" x2="358.12" y2="397.38" stroke="#2a2a2a" stroke-width="1.05"/>
<line x1="361" y1="396.15" x2="361" y2="401.05" stroke="#2a2a2a" stroke-width="1.05"/>
<line x1="358.88" y1="397.38" x2="363.12" y2="399.83" stroke="#2a2a2a" stroke-width="1.05"/>
<line x1="358.88" y1="399.83" x2="363.12" y2="397.38" stroke="#2a2a2a" stroke-width="1.05"/>
<line x1="366" y1="396.15" x2="366" y2="401.05" stroke="#2a2a2a" stroke-width="1.05"/>
<line x1="363.88" y1="397.38" x2="368.12" y2="399.83" stroke="#2a2a2a" stroke-width="1.05"/>
<line x1="363.88" y1="399.83" x2="368.12" y2="397.38" stroke="#2a2a2a" stroke-width="1.05"/>
<line x1="394" y1="394" x2="481" y2="394" stroke="#2e2e2e" stroke-width="1.45"/>
<line x1="432.1" y1="387.15" x2="432.1" y2="392.05" stroke="#2a2a2a" stroke-width="1.05"/>
<line x1="429.98" y1="388.38" x2="434.22" y2="390.83" stroke="#2a2a2a" stroke-width="1.05"/>
<line x1="429.98" y1="390.83" x2="434.22" y2="388.38" stroke="#2a2a2a" stroke-width="1.05"/>
<line x1="437.1" y1="387.15" x2="437.1" y2="392.05" stroke="#2a2a2a" stroke-width="1.05"/>
<line x1="434.98" y1="388.38" x2="439.22" y2="390.83" stroke="#2a2a2a" stroke-width="1.05"/>
<line x1="434.98" y1="390.83" x2="439.22" y2="388.38" stroke="#2a2a2a" stroke-width="1.05"/>
<line x1="442.1" y1="387.15" x2="442.1" y2="392.05" stroke="#2a2a2a" stroke-width="1.05"/>
<line x1="439.98" y1="388.38" x2="444.22" y2="390.83" stroke="#2a2a2a" stroke-width="1.05"/>
<line x1="439.98" y1="390.83" x2="444.22" y2="388.38" stroke="#2a2a2a" stroke-width="1.05"/>
<line x1="392.7" y1="405.3" x2="437.9" y2="405.3" stroke="#2e2e2e" stroke-width="1.45"/>
<line x1="412.3" y1="398.45" x2="412.3" y2="403.35" stroke="#2a2a2a" stroke-width="1.05"/>
<line x1="410.18" y1="399.68" x2="414.42" y2="402.13" stroke="#2a2a2a" stroke-width="1.05"/>
<line x1="410.18" y1="402.13" x2="414.42" y2="399.68" stroke="#2a2a2a" stroke-width="1.05"/>
<line x1="417.3" y1="398.45" x2="417.3" y2="403.35" stroke="#2a2a2a" stroke-width="1.05"/>
<line x1="415.18" y1="399.68" x2="419.42" y2="402.13" stroke="#2a2a2a" stroke-width="1.05"/>
<line x1="415.18" y1="402.13" x2="419.42" y2="399.68" stroke="#2a2a2a" stroke-width="1.05"/>
<line x1="422.3" y1="398.45" x2="422.3" y2="403.35" stroke="#2a2a2a" stroke-width="1.05"/>
<line x1="420.18" y1="399.68" x2="424.42" y2="402.13" stroke="#2a2a2a" stroke-width="1.05"/>
<line x1="420.18" y1="402.13" x2="424.42" y2="399.68" stroke="#2a2a2a" stroke-width="1.05"/>
<line x1="427.3" y1="398.45" x2="427.3" y2="403.35" stroke="#2a2a2a" stroke-width="1.05"/>
<line x1="425.18" y1="399.68" x2="429.42" y2="402.13" stroke="#2a2a2a" stroke-width="1.05"/>
<line x1="425.18" y1="402.13" x2="429.42" y2="399.68" stroke="#2a2a2a" stroke-width="1.05"/>
<line x1="343" y1="500.5" x2="343" y2="529.8" stroke="#333333" stroke-width="1.2"/>
<line x1="335" y1="500.5" x2="351" y2="500.5" stroke="#333333" stroke-width="1.4"/>
<line x1="335" y1="529.8" x2="351" y2="529.8" stroke="#333333" stroke-width="1.4"/>
<line x1="327" y1="515" x2="359" y2="515" stroke="#333333" stroke-width="1.6"/>
<line x1="389.2" y1="418.8" x2="389.2" y2="487.7" stroke="#333333" stroke-width="1.2"/>
<line x1="381.2" y1="418.8" x2="397.2" y2="418.8" stroke="#333333" stroke-width="1.4"/>
<line x1="381.2" y1="487.7" x2="397.2" y2="487.7" stroke="#333333" stroke-width="1.4"/>
<line x1="373.2" y1="453.1" x2="405.2" y2="453.1" stroke="#333333" stroke-width="1.6"/>
<line x1="436.9" y1="503.3" x2="436.9" y2="550.2" stroke="#333333" stroke-width="1.2"/>
<line x1="428.9" y1="503.3" x2="444.9" y2="503.3" stroke="#333333" stroke-width="1.4"/>
<line x1="428.9" y1="550.2" x2="444.9" y2="550.2" stroke="#333333" stroke-width="1.4"/>
<line x1="420.9" y1="526.5" x2="452.9" y2="526.5" stroke="#333333" stroke-width="1.6"/>
<line x1="483.6" y1="487.4" x2="483.6" y2="551.9" stroke="#333333" stroke-width="1.2"/>
<line x1="475.6" y1="487.4" x2="491.6" y2="487.4" stroke="#333333" stroke-width="1.4"/>
<line x1="475.6" y1="551.9" x2="491.6" y2="551.9" stroke="#333333" stroke-width="1.4"/>
<line x1="467.6" y1="519.6" x2="499.6" y2="519.6" stroke="#333333" stroke-width="1.6"/>
<circle cx="343" cy="494" r="2.65" fill="none" stroke="#a2273c" stroke-width="1.05"/>
<circle cx="347" cy="499" r="2.65" fill="none" stroke="#a2273c" stroke-width="1.05"/>
<circle cx="338.8" cy="505.5" r="2.65" fill="none" stroke="#a2273c" stroke-width="1.05"/>
<circle cx="335" cy="519.5" r="2.65" fill="none" stroke="#a2273c" stroke-width="1.05"/>
<circle cx="350.5" cy="517.8" r="2.85" fill="#a2273c"/>
<circle cx="343" cy="524" r="2.85" fill="#a2273c"/>
<circle cx="339" cy="533.3" r="2.85" fill="#a2273c"/>
<circle cx="346.8" cy="531.5" r="2.85" fill="#a2273c"/>
<rect x="382.7" y="413" width="5.4" height="5.4" fill="#a2273c"/>
<rect x="386.5" y="459.3" width="5.4" height="5.4" fill="#a2273c"/>
<rect x="386.5" y="501.6" width="5.4" height="5.4" fill="#a2273c"/>
<rect x="391" y="418.4" width="4.8" height="4.8" fill="none" stroke="#a2273c" stroke-width="1.05"/>
<rect x="386.8" y="427.6" width="4.8" height="4.8" fill="none" stroke="#a2273c" stroke-width="1.05"/>
<rect x="386.8" y="444.8" width="4.8" height="4.8" fill="none" stroke="#a2273c" stroke-width="1.05"/>
<rect x="386.8" y="490.4" width="4.8" height="4.8" fill="none" stroke="#a2273c" stroke-width="1.05"/>
<polygon points="429,501.6 431.75,506.2 426.25,506.2" fill="none" stroke="#a2273c" stroke-width="1.2" stroke-linejoin="miter"/>
<polygon points="444.3,498.4 447.05,503 441.55,503" fill="none" stroke="#a2273c" stroke-width="1.2" stroke-linejoin="miter"/>
<polygon points="436.9,504.1 439.65,508.7 434.15,508.7" fill="none" stroke="#a2273c" stroke-width="1.2" stroke-linejoin="miter"/>
<polygon points="436.9,512.2 439.65,516.8 434.15,516.8" fill="none" stroke="#a2273c" stroke-width="1.2" stroke-linejoin="miter"/>
<polygon points="432.6,537.9 435.8,543.5 429.4,543.5" fill="#a2273c"/>
<polygon points="444.9,544.5 448.1,550.1 441.7,550.1" fill="#a2273c"/>
<polygon points="441.3,548.1 444.5,553.7 438.1,553.7" fill="#a2273c"/>
<polygon points="433.3,552.7 436.5,558.3 430.1,558.3" fill="#a2273c"/>
<polygon points="483.7,457.7 486.45,453.1 480.95,453.1" fill="none" stroke="#a2273c" stroke-width="1.2" stroke-linejoin="miter"/>
<polygon points="483.6,493.9 486.35,489.3 480.85,489.3" fill="none" stroke="#a2273c" stroke-width="1.2" stroke-linejoin="miter"/>
<polygon points="483.6,517.6 486.35,513 480.85,513" fill="none" stroke="#a2273c" stroke-width="1.2" stroke-linejoin="miter"/>
<polygon points="487.8,527.1 490.55,522.5 485.05,522.5" fill="none" stroke="#a2273c" stroke-width="1.2" stroke-linejoin="miter"/>
<polygon points="479.8,531.5 483,525.9 476.6,525.9" fill="#a2273c"/>
<polygon points="483.6,539.3 486.8,533.7 480.4,533.7" fill="#a2273c"/>
<polygon points="479.8,554.1 483,548.5 476.6,548.5" fill="#a2273c"/>
<polygon points="487.8,554.1 491,548.5 484.6,548.5" fill="#a2273c"/>
<text x="10.98" y="604.25" font-size="14.2" text-anchor="start" fill="#231f20" textLength="7.79" lengthAdjust="spacingAndGlyphs">F</text>
<line x1="52.9" y1="786.8" x2="52.9" y2="613.1" stroke="#2b2b2b" stroke-width="1.5"/>
<line x1="52.2" y1="786.2" x2="242" y2="786.2" stroke="#2b2b2b" stroke-width="1.5"/>
<line x1="49.5" y1="786.2" x2="52.9" y2="786.2" stroke="#2b2b2b" stroke-width="1.2"/>
<text x="42.32" y="789.45" font-size="9.3" text-anchor="start" fill="#231f20" textLength="4.79" lengthAdjust="spacingAndGlyphs">0</text>
<line x1="49.5" y1="743.1" x2="52.9" y2="743.1" stroke="#2b2b2b" stroke-width="1.2"/>
<text x="32.75" y="746.35" font-size="9.3" text-anchor="start" fill="#231f20" textLength="14.38" lengthAdjust="spacingAndGlyphs">100</text>
<line x1="49.5" y1="700" x2="52.9" y2="700" stroke="#2b2b2b" stroke-width="1.2"/>
<text x="32.75" y="703.25" font-size="9.3" text-anchor="start" fill="#231f20" textLength="14.38" lengthAdjust="spacingAndGlyphs">200</text>
<line x1="49.5" y1="657" x2="52.9" y2="657" stroke="#2b2b2b" stroke-width="1.2"/>
<text x="32.75" y="660.25" font-size="9.3" text-anchor="start" fill="#231f20" textLength="14.38" lengthAdjust="spacingAndGlyphs">300</text>
<line x1="49.5" y1="613.8" x2="52.9" y2="613.8" stroke="#2b2b2b" stroke-width="1.2"/>
<text x="32.75" y="617.05" font-size="9.3" text-anchor="start" fill="#231f20" textLength="14.38" lengthAdjust="spacingAndGlyphs">400</text>
<line x1="76.2" y1="786.2" x2="76.2" y2="789.7" stroke="#2b2b2b" stroke-width="1.2"/>
<line x1="123.3" y1="786.2" x2="123.3" y2="789.7" stroke="#2b2b2b" stroke-width="1.2"/>
<line x1="170.7" y1="786.2" x2="170.7" y2="789.7" stroke="#2b2b2b" stroke-width="1.2"/>
<line x1="217.9" y1="786.2" x2="217.9" y2="789.7" stroke="#2b2b2b" stroke-width="1.2"/>
<text x="72.62" y="801.7" font-size="9.5" text-anchor="start" fill="#231f20" textLength="7.42" lengthAdjust="spacingAndGlyphs">G</text>
<text x="114.77" y="801.7" font-size="9.5" text-anchor="start" fill="#231f20" textLength="17" lengthAdjust="spacingAndGlyphs">G+F</text>
<text x="162.18" y="801.7" font-size="9.5" text-anchor="start" fill="#231f20" textLength="17.03" lengthAdjust="spacingAndGlyphs">G+P</text>
<text x="204.43" y="801.7" font-size="9.5" text-anchor="start" fill="#231f20" textLength="26.97" lengthAdjust="spacingAndGlyphs">G+F+P</text>
<text x="23.2" y="772.42" font-size="11" text-anchor="start" fill="#231f20" textLength="148.19" lengthAdjust="spacingAndGlyphs" transform="rotate(-90 23.2 772.42)">LKS+ CD48- CD150+ / mL blood</text>
<line x1="120" y1="637" x2="208.3" y2="637" stroke="#2e2e2e" stroke-width="1.45"/>
<line x1="163.8" y1="630.15" x2="163.8" y2="635.05" stroke="#2a2a2a" stroke-width="1.05"/>
<line x1="161.68" y1="631.38" x2="165.92" y2="633.83" stroke="#2a2a2a" stroke-width="1.05"/>
<line x1="161.68" y1="633.83" x2="165.92" y2="631.38" stroke="#2a2a2a" stroke-width="1.05"/>
<line x1="120.5" y1="649.5" x2="164.3" y2="649.5" stroke="#2e2e2e" stroke-width="1.45"/>
<line x1="142" y1="642.65" x2="142" y2="647.55" stroke="#2a2a2a" stroke-width="1.05"/>
<line x1="139.88" y1="643.88" x2="144.12" y2="646.33" stroke="#2a2a2a" stroke-width="1.05"/>
<line x1="139.88" y1="646.33" x2="144.12" y2="643.88" stroke="#2a2a2a" stroke-width="1.05"/>
<line x1="76.2" y1="704" x2="76.2" y2="769.2" stroke="#333333" stroke-width="1.2"/>
<line x1="68.2" y1="704" x2="84.2" y2="704" stroke="#333333" stroke-width="1.4"/>
<line x1="68.2" y1="769.2" x2="84.2" y2="769.2" stroke="#333333" stroke-width="1.4"/>
<line x1="60.2" y1="736.5" x2="92.2" y2="736.5" stroke="#333333" stroke-width="1.6"/>
<line x1="123.3" y1="667.5" x2="123.3" y2="745.8" stroke="#333333" stroke-width="1.2"/>
<line x1="115.3" y1="667.5" x2="131.3" y2="667.5" stroke="#333333" stroke-width="1.4"/>
<line x1="115.3" y1="745.8" x2="131.3" y2="745.8" stroke="#333333" stroke-width="1.4"/>
<line x1="107.3" y1="706.9" x2="139.3" y2="706.9" stroke="#333333" stroke-width="1.6"/>
<line x1="170.7" y1="730.6" x2="170.7" y2="763.6" stroke="#333333" stroke-width="1.2"/>
<line x1="162.7" y1="730.6" x2="178.7" y2="730.6" stroke="#333333" stroke-width="1.4"/>
<line x1="162.7" y1="763.6" x2="178.7" y2="763.6" stroke="#333333" stroke-width="1.4"/>
<line x1="154.7" y1="747.5" x2="186.7" y2="747.5" stroke="#333333" stroke-width="1.6"/>
<line x1="217.9" y1="722.4" x2="217.9" y2="774.6" stroke="#333333" stroke-width="1.2"/>
<line x1="209.9" y1="722.4" x2="225.9" y2="722.4" stroke="#333333" stroke-width="1.4"/>
<line x1="209.9" y1="774.6" x2="225.9" y2="774.6" stroke="#333333" stroke-width="1.4"/>
<line x1="201.9" y1="747.5" x2="233.9" y2="747.5" stroke="#333333" stroke-width="1.6"/>
<circle cx="76.2" cy="665.8" r="2.65" fill="none" stroke="#a2273c" stroke-width="1.05"/>
<circle cx="76.2" cy="725.6" r="2.65" fill="none" stroke="#a2273c" stroke-width="1.05"/>
<circle cx="80.4" cy="730.8" r="2.65" fill="none" stroke="#a2273c" stroke-width="1.05"/>
<circle cx="84.2" cy="751.5" r="2.65" fill="none" stroke="#a2273c" stroke-width="1.05"/>
<circle cx="73.1" cy="735.2" r="2.85" fill="#a2273c"/>
<circle cx="68.8" cy="754.4" r="2.85" fill="#a2273c"/>
<circle cx="76.2" cy="756.3" r="2.85" fill="#a2273c"/>
<circle cx="76.2" cy="774.2" r="2.85" fill="#a2273c"/>
<rect x="120.9" y="659.1" width="4.8" height="4.8" fill="none" stroke="#a2273c" stroke-width="1.05"/>
<rect x="124.6" y="670.9" width="4.8" height="4.8" fill="none" stroke="#a2273c" stroke-width="1.05"/>
<rect x="117.1" y="674.4" width="4.8" height="4.8" fill="none" stroke="#a2273c" stroke-width="1.05"/>
<rect x="120.9" y="727" width="4.8" height="4.8" fill="none" stroke="#a2273c" stroke-width="1.05"/>
<rect x="120.6" y="696.9" width="5.4" height="5.4" fill="#a2273c"/>
<rect x="120.6" y="742.5" width="5.4" height="5.4" fill="#a2273c"/>
<rect x="120.6" y="758.5" width="5.4" height="5.4" fill="#a2273c"/>
<polygon points="170.7,720.9 173.45,725.5 167.95,725.5" fill="none" stroke="#a2273c" stroke-width="1.2" stroke-linejoin="miter"/>
<polygon points="178.1,736.8 180.85,741.4 175.35,741.4" fill="none" stroke="#a2273c" stroke-width="1.2" stroke-linejoin="miter"/>
<polygon points="170.7,738 173.45,742.6 167.95,742.6" fill="none" stroke="#a2273c" stroke-width="1.2" stroke-linejoin="miter"/>
<polygon points="167.1,743.8 169.85,748.4 164.35,748.4" fill="none" stroke="#a2273c" stroke-width="1.2" stroke-linejoin="miter"/>
<polygon points="162.8,735.9 166,741.5 159.6,741.5" fill="#a2273c"/>
<polygon points="174.3,750.2 177.5,755.8 171.1,755.8" fill="#a2273c"/>
<polygon points="174.3,765.9 177.5,771.5 171.1,771.5" fill="#a2273c"/>
<polygon points="166.4,771.4 169.6,777 163.2,777" fill="#a2273c"/>
<polygon points="221.4,713.5 224.15,708.9 218.65,708.9" fill="none" stroke="#a2273c" stroke-width="1.2" stroke-linejoin="miter"/>
<polygon points="217.9,737.1 220.65,732.5 215.15,732.5" fill="none" stroke="#a2273c" stroke-width="1.2" stroke-linejoin="miter"/>
<polygon points="217.9,749.8 220.65,745.2 215.15,745.2" fill="none" stroke="#a2273c" stroke-width="1.2" stroke-linejoin="miter"/>
<polygon points="225.3,761.7 228.05,757.1 222.55,757.1" fill="none" stroke="#a2273c" stroke-width="1.2" stroke-linejoin="miter"/>
<polygon points="213.4,715.4 216.6,709.8 210.2,709.8" fill="#a2273c"/>
<polygon points="209.8,766.2 213,760.6 206.6,760.6" fill="#a2273c"/>
<polygon points="217.9,767.3 221.1,761.7 214.7,761.7" fill="#a2273c"/>
<polygon points="217.9,789.1 221.1,783.5 214.7,783.5" fill="#a2273c"/>
<text x="265.58" y="604.5" font-size="14.2" text-anchor="start" fill="#231f20" textLength="10.47" lengthAdjust="spacingAndGlyphs">G</text>
<line x1="319.4" y1="786.6" x2="319.4" y2="611.3" stroke="#2b2b2b" stroke-width="1.5"/>
<line x1="318.7" y1="786" x2="508.4" y2="786" stroke="#2b2b2b" stroke-width="1.5"/>
<line x1="316" y1="786" x2="319.4" y2="786" stroke="#2b2b2b" stroke-width="1.2"/>
<text x="309.12" y="789.25" font-size="9.3" text-anchor="start" fill="#231f20" textLength="4.79" lengthAdjust="spacingAndGlyphs">0</text>
<line x1="316" y1="751.2" x2="319.4" y2="751.2" stroke="#2b2b2b" stroke-width="1.2"/>
<text x="294.81" y="754.45" font-size="9.3" text-anchor="start" fill="#231f20" textLength="19.17" lengthAdjust="spacingAndGlyphs">2000</text>
<line x1="316" y1="716.3" x2="319.4" y2="716.3" stroke="#2b2b2b" stroke-width="1.2"/>
<text x="294.81" y="719.55" font-size="9.3" text-anchor="start" fill="#231f20" textLength="19.17" lengthAdjust="spacingAndGlyphs">4000</text>
<line x1="316" y1="681.8" x2="319.4" y2="681.8" stroke="#2b2b2b" stroke-width="1.2"/>
<text x="294.81" y="685.05" font-size="9.3" text-anchor="start" fill="#231f20" textLength="19.17" lengthAdjust="spacingAndGlyphs">6000</text>
<line x1="316" y1="647" x2="319.4" y2="647" stroke="#2b2b2b" stroke-width="1.2"/>
<text x="294.81" y="650.25" font-size="9.3" text-anchor="start" fill="#231f20" textLength="19.17" lengthAdjust="spacingAndGlyphs">8000</text>
<line x1="316" y1="612" x2="319.4" y2="612" stroke="#2b2b2b" stroke-width="1.2"/>
<text x="289.98" y="615.25" font-size="9.3" text-anchor="start" fill="#231f20" textLength="23.97" lengthAdjust="spacingAndGlyphs">10000</text>
<line x1="343.3" y1="786" x2="343.3" y2="789.5" stroke="#2b2b2b" stroke-width="1.2"/>
<line x1="390.8" y1="786" x2="390.8" y2="789.5" stroke="#2b2b2b" stroke-width="1.2"/>
<line x1="438.6" y1="786" x2="438.6" y2="789.5" stroke="#2b2b2b" stroke-width="1.2"/>
<line x1="486.2" y1="786" x2="486.2" y2="789.5" stroke="#2b2b2b" stroke-width="1.2"/>
<text x="339.72" y="801.7" font-size="9.5" text-anchor="start" fill="#231f20" textLength="7.42" lengthAdjust="spacingAndGlyphs">G</text>
<text x="382.27" y="801.7" font-size="9.5" text-anchor="start" fill="#231f20" textLength="17" lengthAdjust="spacingAndGlyphs">G+F</text>
<text x="430.08" y="801.7" font-size="9.5" text-anchor="start" fill="#231f20" textLength="17.03" lengthAdjust="spacingAndGlyphs">G+P</text>
<text x="472.73" y="801.7" font-size="9.5" text-anchor="start" fill="#231f20" textLength="26.97" lengthAdjust="spacingAndGlyphs">G+F+P</text>
<text x="284" y="764.8" font-size="11" text-anchor="start" fill="#231f20" textLength="134.47" lengthAdjust="spacingAndGlyphs" transform="rotate(-90 284 764.8)">LKS+ CD48- CD150+ / spleen</text>
<line x1="336.3" y1="617.8" x2="381" y2="617.8" stroke="#2e2e2e" stroke-width="1.45"/>
<line x1="351.3" y1="610.95" x2="351.3" y2="615.85" stroke="#2a2a2a" stroke-width="1.05"/>
<line x1="349.18" y1="612.17" x2="353.42" y2="614.62" stroke="#2a2a2a" stroke-width="1.05"/>
<line x1="349.18" y1="614.62" x2="353.42" y2="612.17" stroke="#2a2a2a" stroke-width="1.05"/>
<line x1="356.3" y1="610.95" x2="356.3" y2="615.85" stroke="#2a2a2a" stroke-width="1.05"/>
<line x1="354.18" y1="612.17" x2="358.42" y2="614.62" stroke="#2a2a2a" stroke-width="1.05"/>
<line x1="354.18" y1="614.62" x2="358.42" y2="612.17" stroke="#2a2a2a" stroke-width="1.05"/>
<line x1="361.3" y1="610.95" x2="361.3" y2="615.85" stroke="#2a2a2a" stroke-width="1.05"/>
<line x1="359.18" y1="612.17" x2="363.42" y2="614.62" stroke="#2a2a2a" stroke-width="1.05"/>
<line x1="359.18" y1="614.62" x2="363.42" y2="612.17" stroke="#2a2a2a" stroke-width="1.05"/>
<line x1="366.3" y1="610.95" x2="366.3" y2="615.85" stroke="#2a2a2a" stroke-width="1.05"/>
<line x1="364.18" y1="612.17" x2="368.42" y2="614.62" stroke="#2a2a2a" stroke-width="1.05"/>
<line x1="364.18" y1="614.62" x2="368.42" y2="612.17" stroke="#2a2a2a" stroke-width="1.05"/>
<line x1="404.6" y1="613.8" x2="483.8" y2="613.8" stroke="#2e2e2e" stroke-width="1.45"/>
<line x1="436.5" y1="606.95" x2="436.5" y2="611.85" stroke="#2a2a2a" stroke-width="1.05"/>
<line x1="434.38" y1="608.17" x2="438.62" y2="610.62" stroke="#2a2a2a" stroke-width="1.05"/>
<line x1="434.38" y1="610.62" x2="438.62" y2="608.17" stroke="#2a2a2a" stroke-width="1.05"/>
<line x1="441.5" y1="606.95" x2="441.5" y2="611.85" stroke="#2a2a2a" stroke-width="1.05"/>
<line x1="439.38" y1="608.17" x2="443.62" y2="610.62" stroke="#2a2a2a" stroke-width="1.05"/>
<line x1="439.38" y1="610.62" x2="443.62" y2="608.17" stroke="#2a2a2a" stroke-width="1.05"/>
<line x1="446.5" y1="606.95" x2="446.5" y2="611.85" stroke="#2a2a2a" stroke-width="1.05"/>
<line x1="444.38" y1="608.17" x2="448.62" y2="610.62" stroke="#2a2a2a" stroke-width="1.05"/>
<line x1="444.38" y1="610.62" x2="448.62" y2="608.17" stroke="#2a2a2a" stroke-width="1.05"/>
<line x1="451.5" y1="606.95" x2="451.5" y2="611.85" stroke="#2a2a2a" stroke-width="1.05"/>
<line x1="449.38" y1="608.17" x2="453.62" y2="610.62" stroke="#2a2a2a" stroke-width="1.05"/>
<line x1="449.38" y1="610.62" x2="453.62" y2="608.17" stroke="#2a2a2a" stroke-width="1.05"/>
<line x1="402.3" y1="624.6" x2="433.5" y2="624.6" stroke="#2e2e2e" stroke-width="1.45"/>
<line x1="410.5" y1="617.75" x2="410.5" y2="622.65" stroke="#2a2a2a" stroke-width="1.05"/>
<line x1="408.38" y1="618.98" x2="412.62" y2="621.43" stroke="#2a2a2a" stroke-width="1.05"/>
<line x1="408.38" y1="621.43" x2="412.62" y2="618.98" stroke="#2a2a2a" stroke-width="1.05"/>
<line x1="415.5" y1="617.75" x2="415.5" y2="622.65" stroke="#2a2a2a" stroke-width="1.05"/>
<line x1="413.38" y1="618.98" x2="417.62" y2="621.43" stroke="#2a2a2a" stroke-width="1.05"/>
<line x1="413.38" y1="621.43" x2="417.62" y2="618.98" stroke="#2a2a2a" stroke-width="1.05"/>
<line x1="420.5" y1="617.75" x2="420.5" y2="622.65" stroke="#2a2a2a" stroke-width="1.05"/>
<line x1="418.38" y1="618.98" x2="422.62" y2="621.43" stroke="#2a2a2a" stroke-width="1.05"/>
<line x1="418.38" y1="621.43" x2="422.62" y2="618.98" stroke="#2a2a2a" stroke-width="1.05"/>
<line x1="425.5" y1="617.75" x2="425.5" y2="622.65" stroke="#2a2a2a" stroke-width="1.05"/>
<line x1="423.38" y1="618.98" x2="427.62" y2="621.43" stroke="#2a2a2a" stroke-width="1.05"/>
<line x1="423.38" y1="621.43" x2="427.62" y2="618.98" stroke="#2a2a2a" stroke-width="1.05"/>
<line x1="343.3" y1="728.5" x2="343.3" y2="767.3" stroke="#333333" stroke-width="1.2"/>
<line x1="335.3" y1="728.5" x2="351.3" y2="728.5" stroke="#333333" stroke-width="1.4"/>
<line x1="335.3" y1="767.3" x2="351.3" y2="767.3" stroke="#333333" stroke-width="1.4"/>
<line x1="327.3" y1="747.7" x2="359.3" y2="747.7" stroke="#333333" stroke-width="1.6"/>
<line x1="390.8" y1="632.7" x2="390.8" y2="717.8" stroke="#333333" stroke-width="1.2"/>
<line x1="382.8" y1="632.7" x2="398.8" y2="632.7" stroke="#333333" stroke-width="1.4"/>
<line x1="382.8" y1="717.8" x2="398.8" y2="717.8" stroke="#333333" stroke-width="1.4"/>
<line x1="374.8" y1="675" x2="406.8" y2="675" stroke="#333333" stroke-width="1.6"/>
<line x1="438.6" y1="751.3" x2="438.6" y2="780.3" stroke="#333333" stroke-width="1.2"/>
<line x1="430.6" y1="751.3" x2="446.6" y2="751.3" stroke="#333333" stroke-width="1.4"/>
<line x1="430.6" y1="780.3" x2="446.6" y2="780.3" stroke="#333333" stroke-width="1.4"/>
<line x1="422.6" y1="765.7" x2="454.6" y2="765.7" stroke="#333333" stroke-width="1.6"/>
<line x1="486.2" y1="738.2" x2="486.2" y2="763" stroke="#333333" stroke-width="1.2"/>
<line x1="478.2" y1="738.2" x2="494.2" y2="738.2" stroke="#333333" stroke-width="1.4"/>
<line x1="478.2" y1="763" x2="494.2" y2="763" stroke="#333333" stroke-width="1.4"/>
<line x1="470.2" y1="750.7" x2="502.2" y2="750.7" stroke="#333333" stroke-width="1.6"/>
<circle cx="343.3" cy="716.9" r="2.85" fill="#a2273c"/>
<circle cx="343.3" cy="741.9" r="2.85" fill="#a2273c"/>
<circle cx="339.4" cy="750.8" r="2.85" fill="#a2273c"/>
<circle cx="347.5" cy="765.4" r="2.85" fill="#a2273c"/>
<circle cx="343.3" cy="729.4" r="2.65" fill="none" stroke="#a2273c" stroke-width="1.05"/>
<circle cx="347.5" cy="745.2" r="2.65" fill="none" stroke="#a2273c" stroke-width="1.05"/>
<circle cx="339.4" cy="760.2" r="2.65" fill="none" stroke="#a2273c" stroke-width="1.05"/>
<circle cx="343.8" cy="775" r="2.65" fill="none" stroke="#a2273c" stroke-width="1.05"/>
<rect x="388.5" y="610.8" width="5.4" height="5.4" fill="#a2273c"/>
<rect x="388.1" y="661.1" width="5.4" height="5.4" fill="#a2273c"/>
<rect x="388.1" y="722.5" width="5.4" height="5.4" fill="#a2273c"/>
<rect x="388.4" y="622.6" width="4.8" height="4.8" fill="none" stroke="#a2273c" stroke-width="1.05"/>
<rect x="384.5" y="695.3" width="4.8" height="4.8" fill="none" stroke="#a2273c" stroke-width="1.05"/>
<rect x="388.8" y="694.7" width="4.8" height="4.8" fill="none" stroke="#a2273c" stroke-width="1.05"/>
<rect x="392.2" y="703.4" width="4.8" height="4.8" fill="none" stroke="#a2273c" stroke-width="1.05"/>
<polygon points="446.6,749.5 449.35,754.1 443.85,754.1" fill="none" stroke="#a2273c" stroke-width="1.2" stroke-linejoin="miter"/>
<polygon points="431.2,756.9 433.95,761.5 428.45,761.5" fill="none" stroke="#a2273c" stroke-width="1.2" stroke-linejoin="miter"/>
<polygon points="438.6,756.9 441.35,761.5 435.85,761.5" fill="none" stroke="#a2273c" stroke-width="1.2" stroke-linejoin="miter"/>
<polygon points="438.6,765.6 441.35,770.2 435.85,770.2" fill="none" stroke="#a2273c" stroke-width="1.2" stroke-linejoin="miter"/>
<polygon points="438.6,743.9 441.8,749.5 435.4,749.5" fill="#a2273c"/>
<polygon points="438.6,776.1 441.8,781.7 435.4,781.7" fill="#a2273c"/>
<polygon points="442.4,777.7 445.6,783.3 439.2,783.3" fill="#a2273c"/>
<polygon points="434.8,784.1 438,789.7 431.6,789.7" fill="#a2273c"/>
<polygon points="486.2,733.6 488.95,729 483.45,729" fill="none" stroke="#a2273c" stroke-width="1.2" stroke-linejoin="miter"/>
<polygon points="482.3,743.1 485.05,738.5 479.55,738.5" fill="none" stroke="#a2273c" stroke-width="1.2" stroke-linejoin="miter"/>
<polygon points="482.3,750.9 485.05,746.3 479.55,746.3" fill="none" stroke="#a2273c" stroke-width="1.2" stroke-linejoin="miter"/>
<polygon points="486.2,765.9 488.95,761.3 483.45,761.3" fill="none" stroke="#a2273c" stroke-width="1.2" stroke-linejoin="miter"/>
<polygon points="490.4,741.5 493.6,735.9 487.2,735.9" fill="#a2273c"/>
<polygon points="490.4,755.6 493.6,750 487.2,750" fill="#a2273c"/>
<polygon points="478.8,763.7 482,758.1 475.6,758.1" fill="#a2273c"/>
<polygon points="494.2,766.2 497.4,760.6 491,760.6" fill="#a2273c"/>
<rect x="0" y="0" width="520" height="1.35" fill="#5f5f5f"/>
<rect x="0" y="1" width="1.2" height="811" fill="#000"/>
<rect x="518.6" y="1.35" width="1.4" height="811" fill="#000"/>
<rect x="0" y="810.6" width="520" height="1.4" fill="#000"/>
</g></svg>
</body></html>
